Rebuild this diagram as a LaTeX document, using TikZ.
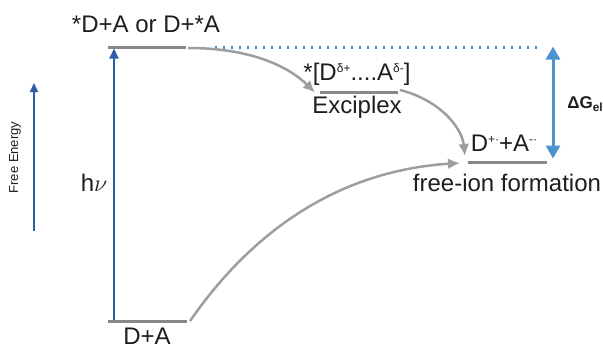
\documentclass[tikz,border=0pt]{standalone}
\usepackage{fontspec}
\setmainfont{Liberation Sans}
\usetikzlibrary{arrows.meta}
\definecolor{levelgray}{HTML}{86888A}
\definecolor{arrowgray}{HTML}{9C9E9F}
\definecolor{deepblue}{HTML}{2F5EA8}
\definecolor{skyblue}{HTML}{4C93CF}
\definecolor{dotblue}{HTML}{3F8AD2}
\definecolor{inkgray}{HTML}{1E1E1E}
% small raised charge marks
\newcommand{\upidx}[1]{\raisebox{0.62ex}{\fontsize{6}{6}\selectfont #1}}

\begin{document}
\begin{tikzpicture}[x=0.5pt,y=-0.5pt,
  level/.style={draw=levelgray, line width=1.5pt},
  route/.style={draw=arrowgray, line width=1.25pt, -{Latex[length=6pt,width=5.5pt]}},
  lbl/.style={font=\fontsize{12}{14}\selectfont, text=inkgray, inner sep=0pt, anchor=base},
]
\useasboundingbox (0,0) rectangle (603,349);

% energy levels
\coordinate (t1) at (108,47.5);  \coordinate (t2) at (186,47.5);
\coordinate (e1) at (320,92);    \coordinate (e2) at (398,92);
\coordinate (f1) at (468,162);   \coordinate (f2) at (547,162);
\coordinate (b1) at (108,321);   \coordinate (b2) at (187,321);
\draw[level] (t1) -- (t2);
\draw[level] (e1) -- (e2);
\draw[level] (f1) -- (f2);
\draw[level] (b1) -- (b2);

% level labels
\node[lbl] (ttop)  at (146,32.5) {*D+A or D+*A};
\node[lbl] (texc)  at (357,80)   {*[D\upidx{δ+}....A\upidx{δ-}]};
\node[lbl] (tname) at (357,113)  {Exciplex};
\node[lbl] (tion)  at (504,151.7) {D\upidx{+·}+A\upidx{-·}};
\node[lbl] (tform) at (507,191.7) {free-ion formation};
\node[lbl] (tbot)  at (147,344.5)  {D+A};

% free energy axis
\coordinate (feS) at (34,231);
\coordinate (feE) at (34,83);
\draw[deepblue, line width=1pt, -{Triangle[length=4.5pt,width=4pt]}] (feS) -- (feE);
\node[font=\fontsize{6.5}{7}\selectfont, rotate=90, text=inkgray, inner sep=0pt] (fe) at (15,157.5) {Free Energy};

% photoexcitation
\coordinate (nuS) at (114,320);
\coordinate (nuE) at (114,48.5);
\draw[deepblue, line width=1pt, -{Triangle[length=5pt,width=4.5pt]}] (nuS) -- (nuE);
\node[lbl] (hnu) at (94,191) {h$\nu$};

% reference level and free energy change
\coordinate (dot1) at (215,47.5);
\coordinate (dot2) at (540,47.5);
\draw[dotblue, line width=1.1pt, dash pattern=on 1pt off 3pt] (dot1) -- (dot2);
\coordinate (dgT) at (553,46.5);
\coordinate (dgB) at (553,158.5);
\draw[skyblue, line width=1.5pt, {Triangle[length=6.5pt,width=7pt]}-{Triangle[length=6.5pt,width=7pt]}] (dgT) -- (dgB);
\node[font=\bfseries\fontsize{8.5}{9}\selectfont, anchor=base west, inner sep=0pt, text=inkgray] (dg) at (567,108) {ΔG\textsubscript{el}};

% relaxation pathways
\coordinate (r1s) at (188,48);  \coordinate (r1e) at (315,92.5);
\coordinate (r2s) at (400,90);  \coordinate (r2e) at (465,156);
\coordinate (r3s) at (190,321); \coordinate (r3e) at (460,163);
\draw[route] (r1s) .. controls (250,48) and (288,66) .. (r1e);
\draw[route] (r2s) .. controls (440,100) and (462,128) .. (r2e);
\draw[route] (r3s) .. controls (260,220) and (350,170) .. (r3e);
\end{tikzpicture}
\end{document}
